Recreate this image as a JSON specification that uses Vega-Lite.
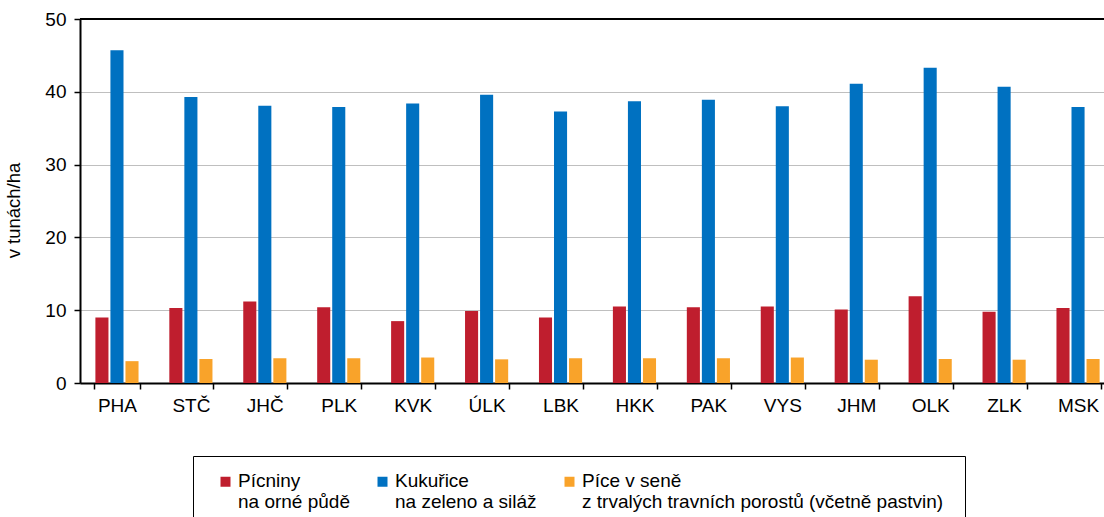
{
  "$schema": "https://vega.github.io/schema/vega-lite/v6.json",
  "autosize": {"type": "none"},
  "width": 1024,
  "height": 364,
  "padding": {"left": 80, "top": 19, "right": 0, "bottom": 134},
  "background": "white",
  "config": {
    "font": "Liberation Sans",
    "view": {"stroke": null},
    "axis": {"labelFont": "Liberation Sans", "titleFont": "Liberation Sans", "labelColor": "black", "titleColor": "black"}
  },
  "data": {
    "values": [
      {"kraj": "PHA", "serie": "Pícniny na orné půdě", "hodnota": 9.0},
      {"kraj": "PHA", "serie": "Kukuřice na zeleno a siláž", "hodnota": 45.7},
      {"kraj": "PHA", "serie": "Píce v seně z trvalých travních porostů", "hodnota": 3.0},
      {"kraj": "STČ", "serie": "Pícniny na orné půdě", "hodnota": 10.3},
      {"kraj": "STČ", "serie": "Kukuřice na zeleno a siláž", "hodnota": 39.3},
      {"kraj": "STČ", "serie": "Píce v seně z trvalých travních porostů", "hodnota": 3.3},
      {"kraj": "JHČ", "serie": "Pícniny na orné půdě", "hodnota": 11.2},
      {"kraj": "JHČ", "serie": "Kukuřice na zeleno a siláž", "hodnota": 38.1},
      {"kraj": "JHČ", "serie": "Píce v seně z trvalých travních porostů", "hodnota": 3.4},
      {"kraj": "PLK", "serie": "Pícniny na orné půdě", "hodnota": 10.4},
      {"kraj": "PLK", "serie": "Kukuřice na zeleno a siláž", "hodnota": 37.9},
      {"kraj": "PLK", "serie": "Píce v seně z trvalých travních porostů", "hodnota": 3.4},
      {"kraj": "KVK", "serie": "Pícniny na orné půdě", "hodnota": 8.5},
      {"kraj": "KVK", "serie": "Kukuřice na zeleno a siláž", "hodnota": 38.4},
      {"kraj": "KVK", "serie": "Píce v seně z trvalých travních porostů", "hodnota": 3.5},
      {"kraj": "ÚLK", "serie": "Pícniny na orné půdě", "hodnota": 9.9},
      {"kraj": "ÚLK", "serie": "Kukuřice na zeleno a siláž", "hodnota": 39.6},
      {"kraj": "ÚLK", "serie": "Píce v seně z trvalých travních porostů", "hodnota": 3.25},
      {"kraj": "LBK", "serie": "Pícniny na orné půdě", "hodnota": 9.0},
      {"kraj": "LBK", "serie": "Kukuřice na zeleno a siláž", "hodnota": 37.3},
      {"kraj": "LBK", "serie": "Píce v seně z trvalých travních porostů", "hodnota": 3.4},
      {"kraj": "HKK", "serie": "Pícniny na orné půdě", "hodnota": 10.5},
      {"kraj": "HKK", "serie": "Kukuřice na zeleno a siláž", "hodnota": 38.7},
      {"kraj": "HKK", "serie": "Píce v seně z trvalých travních porostů", "hodnota": 3.4},
      {"kraj": "PAK", "serie": "Pícniny na orné půdě", "hodnota": 10.4},
      {"kraj": "PAK", "serie": "Kukuřice na zeleno a siláž", "hodnota": 38.9},
      {"kraj": "PAK", "serie": "Píce v seně z trvalých travních porostů", "hodnota": 3.4},
      {"kraj": "VYS", "serie": "Pícniny na orné půdě", "hodnota": 10.5},
      {"kraj": "VYS", "serie": "Kukuřice na zeleno a siláž", "hodnota": 38.0},
      {"kraj": "VYS", "serie": "Píce v seně z trvalých travních porostů", "hodnota": 3.5},
      {"kraj": "JHM", "serie": "Pícniny na orné půdě", "hodnota": 10.1},
      {"kraj": "JHM", "serie": "Kukuřice na zeleno a siláž", "hodnota": 41.1},
      {"kraj": "JHM", "serie": "Píce v seně z trvalých travních porostů", "hodnota": 3.2},
      {"kraj": "OLK", "serie": "Pícniny na orné půdě", "hodnota": 11.9},
      {"kraj": "OLK", "serie": "Kukuřice na zeleno a siláž", "hodnota": 43.3},
      {"kraj": "OLK", "serie": "Píce v seně z trvalých travních porostů", "hodnota": 3.3},
      {"kraj": "ZLK", "serie": "Pícniny na orné půdě", "hodnota": 9.8},
      {"kraj": "ZLK", "serie": "Kukuřice na zeleno a siláž", "hodnota": 40.7},
      {"kraj": "ZLK", "serie": "Píce v seně z trvalých travních porostů", "hodnota": 3.2},
      {"kraj": "MSK", "serie": "Pícniny na orné půdě", "hodnota": 10.3},
      {"kraj": "MSK", "serie": "Kukuřice na zeleno a siláž", "hodnota": 37.9},
      {"kraj": "MSK", "serie": "Píce v seně z trvalých travních porostů", "hodnota": 3.3}
    ]
  },
  "layer": [
    {
      "mark": {"type": "bar"},
      "encoding": {
        "x": {
          "field": "kraj",
          "type": "nominal",
          "sort": ["PHA", "STČ", "JHČ", "PLK", "KVK", "ÚLK", "LBK", "HKK", "PAK", "VYS", "JHM", "OLK", "ZLK", "MSK"],
          "scale": {"range": [0, 1035], "paddingInner": 0.39, "paddingOuter": 0.195},
          "axis": {
            "title": null,
            "labelAngle": 0,
            "labelFontSize": 19,
            "labelPadding": 7,
            "tickSize": 6,
            "tickBand": "extent",
            "tickColor": "black",
            "tickWidth": 1.5,
            "domainColor": "black",
            "domainWidth": 2,
            "grid": false
          }
        },
        "xOffset": {
          "field": "serie",
          "type": "nominal",
          "sort": ["Pícniny na orné půdě", "Kukuřice na zeleno a siláž", "Píce v seně z trvalých travních porostů"],
          "scale": {"paddingInner": 0.13, "paddingOuter": 0.065}
        },
        "y": {
          "field": "hodnota",
          "type": "quantitative",
          "scale": {"domain": [0, 50], "nice": false},
          "axis": {
            "title": "v tunách/ha",
            "titleFontSize": 18.5,
            "titleFontWeight": "normal",
            "titleX": -57,
            "titleY": 191,
            "values": [0, 10, 20, 30, 40, 50],
            "labelFontSize": 19,
            "labelPadding": 8,
            "tickSize": 6,
            "tickColor": "black",
            "tickWidth": 1.5,
            "domainColor": "black",
            "domainWidth": 2,
            "grid": true,
            "gridColor": "#BFBFBF",
            "gridWidth": 1.2
          }
        },
        "color": {
          "field": "serie",
          "type": "nominal",
          "scale": {
            "domain": ["Pícniny na orné půdě", "Kukuřice na zeleno a siláž", "Píce v seně z trvalých travních porostů"],
            "range": ["#BF1E2E", "#0071C1", "#F9A32A"]
          },
          "legend": {
            "title": null,
            "orient": "none",
            "legendX": 113,
            "legendY": 437,
            "direction": "horizontal",
            "strokeColor": "black",
            "padding": 21,
            "symbolOffset": 2,
            "symbolType": "M-1,-2H1V0H-1Z",
            "symbolSize": 100,
            "symbolStrokeWidth": 0,
            "labelOffset": 3,
            "columnPadding": 21,
            "labelFont": "Liberation Sans",
            "labelFontSize": 19,
            "labelColor": "black",
            "labelBaseline": "alphabetic",
            "labelLimit": 600,
            "labelExpr": "datum.label == 'Pícniny na orné půdě' ? ['Pícniny', 'na orné půdě'] : datum.label == 'Kukuřice na zeleno a siláž' ? ['Kukuřice', '\u00a0na zeleno a siláž'] : ['Píce v seně', 'z trvalých travních porostů (včetně pastvin)\u00a0\u00a0\u00a0\u00a0\u00a0']"
          }
        }
      }
    },
    {
      "mark": {"type": "rule", "color": "black", "strokeWidth": 2},
      "encoding": {"y": {"datum": 50}}
    }
  ]
}
